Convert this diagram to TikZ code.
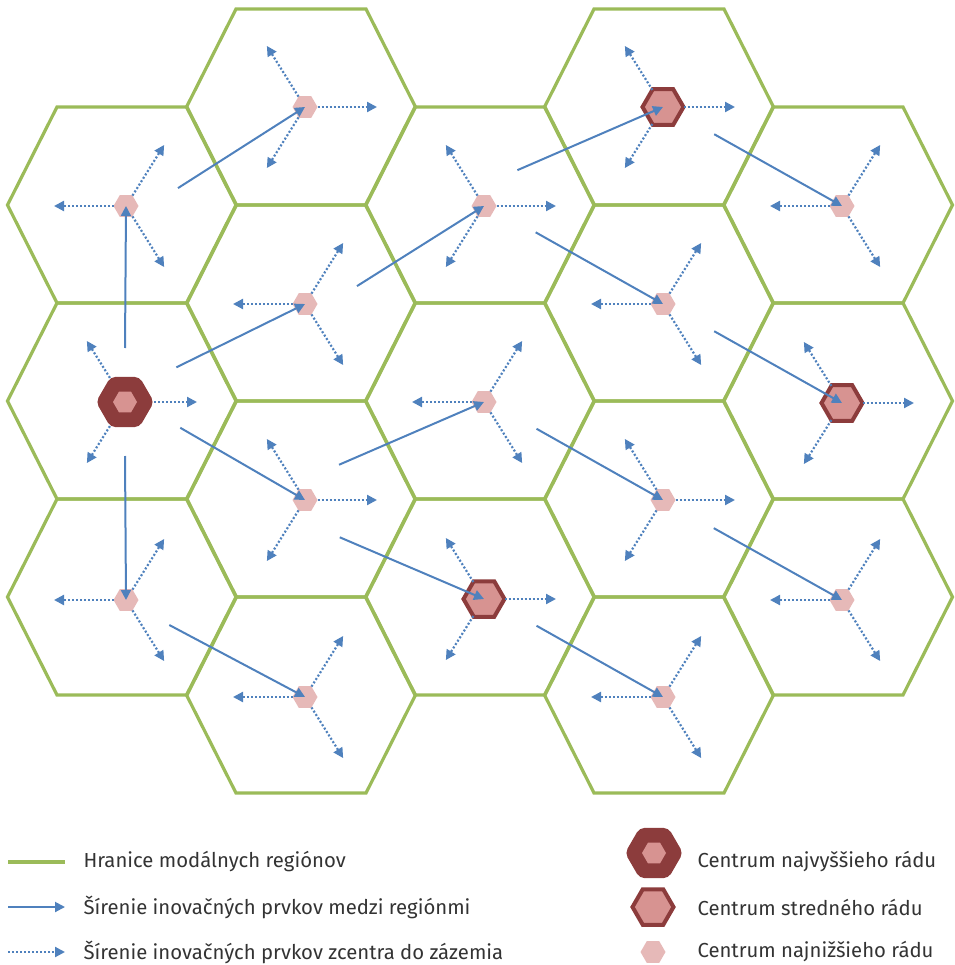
\documentclass[tikz,border=0pt]{standalone}
\usepackage{fontspec}
\setmainfont{Fira Sans}
\usetikzlibrary{shapes.geometric,arrows.meta,calc}
\definecolor{regiongreen}{HTML}{9BBB59}
\definecolor{flowblue}{HTML}{4F81BD}
\definecolor{centredark}{HTML}{8C3C3C}
\definecolor{midpink}{HTML}{D79391}
\definecolor{lowpink}{HTML}{E6B9B8}
\definecolor{textgray}{HTML}{333333}
\tikzset{
  region/.style = {draw = regiongreen, line width = 3.2pt},
  flow/.style = {draw = flowblue, line width = 2pt, -{Triangle[length = 10pt, width = 10pt]}},
  spread/.style = {draw = flowblue, line width = 2.2pt, dash pattern = on 2pt off 2pt, -{Triangle[length = 10pt, width = 10pt]}},
  hexnode/.style = {regular polygon, regular polygon sides = 6, inner sep = 0pt, outer sep = 0pt},
  lowcentre/.style = {hexnode, minimum size = 25pt, fill = lowpink},
  midcentre/.style = {hexnode, minimum size = 41pt, fill = midpink, draw = centredark, line width = 4pt},
  topcentre/.style = {hexnode, minimum size = 58pt, fill = centredark, rounded corners = 5pt},
  topcore/.style = {hexnode, minimum size = 24pt, fill = midpink},
  keytext/.style = {anchor = west, text = textgray, font = \fontsize{20.3}{24}\selectfont}
}
\begin{document}
\begin{tikzpicture}[x = 1pt, y = 1pt]
      \useasboundingbox (0,0) rectangle (954,-965);
      % modal regions
      \foreach \x/\y in {122/205, 122/401, 122/597, 301/107, 301/303, 301/499, 301/695,
                         480/205, 480/401, 480/597, 659/107, 659/303, 659/499, 659/695,
                         838/205, 838/401, 838/597}
        \draw [region] (\x,-\y) ++(-114.5,0) --++ (49.5,98) --++ (130,0) --++ (49.5,-98)
          --++ (-49.5,-98) --++ (-130,0) -- cycle;
      % centres
      \node [topcentre] (c0b) at (125,-402) {};
      \node [topcore] (c0bcore) at (c0b) {};
      \node [lowcentre] (c0a) at (126,-206) {};
      \node [lowcentre] (c0c) at (126,-600) {};
      \node [lowcentre] (c1a) at (305,-107) {};
      \node [lowcentre] (c1b) at (305,-304) {};
      \node [lowcentre] (c1c) at (305,-500) {};
      \node [lowcentre] (c1d) at (305,-697) {};
      \node [lowcentre] (c2a) at (484,-206) {};
      \node [lowcentre] (c2b) at (484,-402) {};
      \node [midcentre] (c2c) at (484,-599) {};
      \node [midcentre] (c3a) at (663,-107) {};
      \node [lowcentre] (c3b) at (663,-304) {};
      \node [lowcentre] (c3c) at (663,-500) {};
      \node [lowcentre] (c3d) at (663,-697) {};
      \node [lowcentre] (c4a) at (842,-206) {};
      \node [midcentre] (c4b) at (842,-403) {};
      \node [lowcentre] (c4c) at (842,-600) {};
      % spreading into the hinterland
      \foreach \c in {c0a, c0c, c1b, c1d, c2b, c3b, c3d, c4a, c4c}
        \foreach \a in {180, 58, -58}
          \draw [spread] (\c) -- ++(\a:72);
      \foreach \c in {c0b, c1a, c1c, c2a, c2c, c3a, c3c, c4b}
        \foreach \a in {0, 122, -122}
          \draw [spread] (\c) -- ++(\a:72);
      % spreading between regions
      \foreach \s/\a/\d/\t in {c0b/90/54/c0a, c0a/19/55/c1a, c0b/34/62/c1b, c0b/-25/61/c1c,
                               c0b/-90/54/c0c, c0c/-30/50/c1d, c1b/19/55/c2a, c1c/46/49/c2b,
                               c1c/-47/51/c2c, c2a/47/49/c3a, c2a/-27/58/c3b, c3a/-28/58/c4a,
                               c3b/-28/58/c4b, c2b/-27/59/c3c, c3c/-29/58/c4c, c2c/-27/59/c3d}
        \draw [flow] ($(\s)+(\a:\d)$) -- (\t.center);
      % legend
      \coordinate (k1) at (8,-862);
      \coordinate (k2) at (8,-907);
      \coordinate (k3) at (8,-952);
      \draw [region] (k1) -- ++(57,0);
      \draw [flow] (k2) -- ++(57,0);
      \draw [spread] (k3) -- ++(57,0);
      \node [keytext] (t1) at (80,-862) {Hranice modálnych regiónov};
      \node [keytext] (t2) at (80,-907) {Šírenie inovačných prvkov medzi regiónmi};
      \node [keytext] (t3) at (80,-952) {Šírenie inovačných prvkov zcentra do zázemia};
      \node [topcentre] (ktop) at (654,-853) {};
      \node [topcore] (ktopcore) at (ktop) {};
      \node [midcentre] (kmid) at (653,-907) {};
      \node [lowcentre] (klow) at (653,-952) {};
      \node [keytext] (t4) at (694,-862) {Centrum najvyššieho rádu};
      \node [keytext] (t5) at (694,-907) {Centrum stredného rádu};
      \node [keytext] (t6) at (694,-952) {Centrum najnižšieho rádu};
\end{tikzpicture}
\end{document}
